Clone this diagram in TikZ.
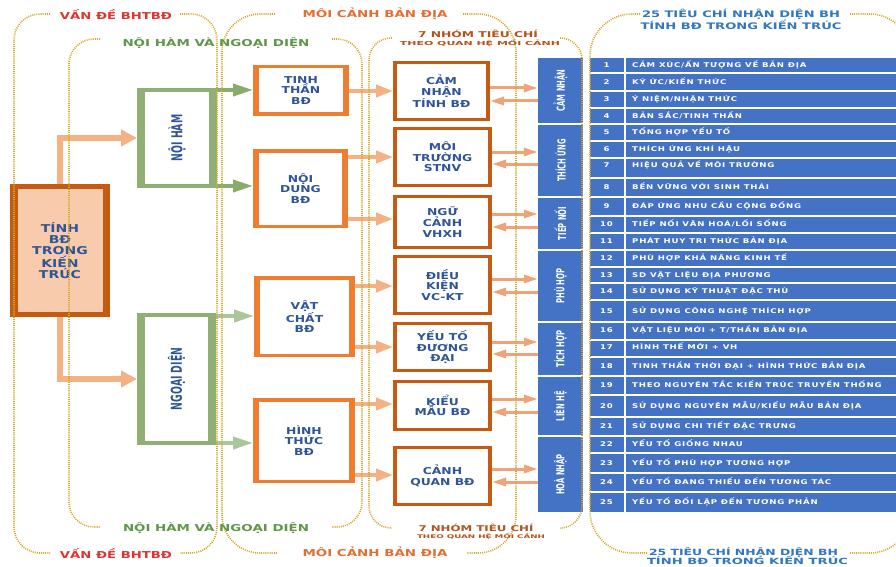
\documentclass[tikz,border=0pt]{standalone}
\usepackage{fontspec}
\usepackage{graphicx}
\setmainfont{DejaVu Sans}
\newfontfamily\wfont{DejaVu Sans}[FakeStretch=1.3]
\newfontfamily\cfont{DejaVu Sans}[FakeStretch=0.62]
\newfontfamily\tfont{DejaVu Sans}[FakeStretch=1.32,LetterSpace=12]
\usetikzlibrary{arrows.meta}
\newcommand\fitw[2]{\resizebox{#1}{\height}{#2}}
\definecolor{gold}{RGB}{212,168,44}
\definecolor{tblue}{RGB}{68,114,196}
\definecolor{txtblue}{RGB}{47,85,151}
\definecolor{dorange}{RGB}{197,90,17}
\definecolor{morange}{RGB}{237,125,49}
\definecolor{peach}{RGB}{248,203,173}
\definecolor{salmon}{RGB}{244,177,131}
\definecolor{salmontwo}{RGB}{238,163,120}
\definecolor{gbox}{RGB}{143,175,117}
\definecolor{garrow}{RGB}{138,170,110}
\definecolor{garrowl}{RGB}{170,198,155}
\definecolor{hred}{RGB}{222,52,48}
\definecolor{hgreen}{RGB}{96,150,72}
\definecolor{horange}{RGB}{228,110,50}
\definecolor{hbrown}{RGB}{180,82,30}
\definecolor{hblue}{RGB}{50,120,190}
\begin{document}
\begin{tikzpicture}[x=1pt,y=-1pt,
  framebox/.style n args={3}{draw=#1, line width=#2, fill=white, inner sep=0pt,
    path picture={\fill[#1] (path picture bounding box.south west) rectangle ([xshift=#3]path picture bounding box.north west);
                  \fill[#1] (path picture bounding box.south east) rectangle ([xshift=-#3]path picture bounding box.north east);}},
  boxtxt/.style={text=txtblue, align=center, font={\wfont\bfseries\fontsize{9.5}{10.6}\selectfont}},
  cthree/.style={framebox={morange}{3.5pt}{4pt}, boxtxt},
  cfour/.style={framebox={dorange}{3pt}{2.5pt}, boxtxt},
  gbx/.style={framebox={gbox}{4pt}{6pt}, text=txtblue, font={\cfont\bfseries\fontsize{15}{17}\selectfont}},
  marrow/.style={draw=salmon, line width=6pt, -{Triangle[length=16pt,width=16pt]}},
  garr/.style={draw=garrow, line width=3.8pt, -{Triangle[length=20pt,width=12pt]}},
  garrl/.style={draw=garrowl, line width=3.8pt, -{Triangle[length=20pt,width=12pt]}},
  sarr/.style={draw=salmon, line width=4pt, -{Triangle[length=17pt,width=12pt]}},
  tarr/.style={draw=salmontwo, line width=3pt, -{Triangle[length=14pt,width=8pt]}},
  gcell/.style={fill=tblue, inner sep=0pt, minimum width=45pt, text=white, font={\cfont\bfseries\fontsize{11}{12}\selectfont}},
  rowtxt/.style={text=white, inner sep=0pt, text height=4.8pt, text depth=0pt, font={\tfont\bfseries\fontsize{6.5}{7}\selectfont}},
  gline/.style={draw=gold, line width=1.6pt, dash pattern=on 1pt off 1.1pt},
  hdr/.style={inner sep=0pt, font={\wfont\bfseries\fontsize{9.5}{10}\selectfont}},
]
\useasboundingbox (0,0) rectangle (896,567);
\fill[white] (0,0) rectangle (896,567);

% ---------- table ----------
\node[gcell, minimum height=65.5pt] (g1) at (560.5,90.5) {\rotatebox{90}{CẢM NHẬN}};
\node[gcell, minimum height=71.5pt] (g2) at (560.5,160.5) {\rotatebox{90}{THÍCH ỨNG}};
\node[gcell, minimum height=51.5pt] (g3) at (560.5,223.5) {\rotatebox{90}{TIẾP NỐI}};
\node[gcell, minimum height=70.5pt] (g4) at (560.5,286) {\rotatebox{90}{PHÙ HỢP}};
\node[gcell, minimum height=52.5pt] (g5) at (560.5,349) {\rotatebox{90}{TÍCH HỢP}};
\node[gcell, minimum height=58.5pt] (g6) at (560.5,406) {\rotatebox{90}{LIÊN HỆ}};
\node[gcell, minimum height=75.5pt] (g7) at (560.5,474.5) {\rotatebox{90}{HOÀ NHẬP}};

\foreach \n/\t/\a/\b/\y in {
 1/{CẢM XÚC/ẤN TƯỢNG VỀ BẢN ĐỊA}/57/73/65,
 2/{KÝ ỨC/KIẾN THỨC}/73/91/82,
 3/{Ý NIỆM/NHẬN THỨC}/91/108/99.5,
 4/{BẢN SẮC/TINH THẦN}/108/124/116,
 5/{TỔNG HỢP YẾU TỐ}/124/141/132.5,
 6/{THÍCH ỨNG KHÍ HẬU}/141/158/149.5,
 7/{HIỆU QUẢ VỀ MÔI TRƯỜNG}/158/178/165,
 8/{BỀN VỮNG VỚI SINH THÁI}/178/197/187,
 9/{ĐÁP ỨNG NHU CẦU CỘNG ĐỒNG}/197/216/206,
 10/{TIẾP NỐI VĂN HOÁ/LỐI SỐNG}/216/233/224.5,
 11/{PHÁT HUY TRI THỨC BẢN ĐỊA}/233/250/241.5,
 12/{PHÙ HỢP KHẢ NĂNG KINH TẾ}/250/267/258.5,
 13/{SD VẬT LIỆU ĐỊA PHƯƠNG}/267/283/275,
 14/{SỬ DỤNG KỸ THUẬT ĐẶC THÙ}/283/300/291.5,
 15/{SỬ DỤNG CÔNG NGHỆ THÍCH HỢP}/300/322/311,
 16/{VẬT LIỆU MỚI + T/THẦN BẢN ĐỊA}/322/340/330,
 17/{HÌNH THẾ MỚI + VH}/340/357/347,
 18/{TINH THẦN THỜI ĐẠI + HÌNH THỨC BẢN ĐỊA}/357/376/366,
 19/{THEO NGUYÊN TẮC KIẾN TRÚC TRUYỀN THỐNG}/376/395/385.5,
 20/{SỬ DỤNG NGUYÊN MẪU/KIỂU MẪU BẢN ĐỊA}/395/417/406,
 21/{SỬ DỤNG CHI TIẾT ĐẶC TRƯNG}/417/436/426,
 22/{YẾU TỐ GIỐNG NHAU}/436/453/444.5,
 23/{YẾU TỐ PHÙ HỢP TƯƠNG HỢP}/453/473/463,
 24/{YẾU TỐ ĐANG THIẾU ĐẾN TƯƠNG TÁC}/473/492/482.5,
 25/{YẾU TỐ ĐỐI LẬP ĐẾN TƯƠNG PHẢN}/492/513/502.5}{
  \fill[tblue] (590,\a+0.6) rectangle (623.5,\b-0.6);
  \fill[tblue] (625.5,\a+0.6) rectangle (900,\b-0.6);
  \node[rowtxt] (n\n) at (606.5,\y) {\n};
  \node[rowtxt, anchor=west] (r\n) at (632,\y) {\t};
}

% ---------- main box ----------
\node[framebox={dorange}{5pt}{5pt}, fill=peach, minimum width=95pt, minimum height=128pt,
      text=txtblue, align=center, font={\wfont\bfseries\fontsize{10.8}{11.4}\selectfont}]
      (main) at (60,250.5) {TÍNH\\BĐ\\TRONG\\KIẾN\\TRÚC};

% ---------- green boxes ----------
\node[gbx, minimum width=76pt, minimum height=96pt] (nh) at (177,138) {\rotatebox{90}{NỘI HÀM}};
\node[gbx, minimum width=75pt, minimum height=128pt] (ng) at (176.5,379) {\rotatebox{90}{NGOẠI DIỆN}};

% ---------- column 3 ----------
\node[cthree, minimum width=92.5pt, minimum height=47.5pt] (tt) at (301,90.5) {TINH\\THẦN\\BĐ};
\node[cthree, minimum width=91.5pt, minimum height=75.5pt] (nd) at (300.5,188.5) {NỘI\\DUNG\\BĐ};
\node[cthree, minimum width=97.5pt, minimum height=77.5pt] (vc) at (304.5,316.5) {VẬT\\CHẤT\\BĐ};
\node[cthree, minimum width=98.5pt, minimum height=81.5pt] (ht) at (304,440.5) {HÌNH\\THỨC\\BĐ};

% ---------- column 4 ----------
\node[cfour, minimum width=94pt, minimum height=57pt] (cn) at (441.5,91) {CẢM\\NHẬN\\TÍNH BĐ};
\node[cfour, minimum width=96pt, minimum height=57pt] (mt) at (442.5,157) {MÔI\\TRƯỜNG\\STNV};
\node[cfour, minimum width=96pt, minimum height=51pt] (nc) at (442.5,222) {NGỮ\\CẢNH\\VHXH};
\node[cfour, minimum width=96pt, minimum height=57pt] (dk) at (442.5,285) {ĐIỀU\\KIỆN\\VC-KT};
\node[cfour, minimum width=96pt, minimum height=47pt] (yt) at (442.5,347) {YẾU TỐ\\ĐƯƠNG\\ĐẠI};
\node[cfour, minimum width=96pt, minimum height=48pt] (km) at (442.5,405.5) {KIỂU\\MẪU BĐ};
\node[cfour, minimum width=96pt, minimum height=57pt] (cq) at (442.5,476) {CẢNH\\QUAN BĐ};

% ---------- arrows ----------
\draw[marrow] (main.north) |- (nh.west);
\draw[marrow] (main.south) |- (ng.west);

\draw[garr] (nh.east |- 0,90) -- (tt.west |- 0,90);
\draw[garr] (nh.east |- 0,186) -- (nd.west |- 0,186);
\draw[garrl] (ng.east |- 0,316) -- (vc.west |- 0,316);
\draw[garrl] (ng.east |- 0,443) -- (ht.west |- 0,443);

\draw[sarr] (tt.east |- 0,91) -- (cn.west |- 0,91);
\draw[sarr] (nd.east |- 0,157) -- (mt.west |- 0,157);
\draw[sarr] (nd.east |- 0,219) -- (nc.west |- 0,219);
\draw[sarr] (vc.east |- 0,286) -- (dk.west |- 0,286);
\draw[sarr] (vc.east |- 0,347) -- (yt.west |- 0,347);
\draw[sarr] (ht.east |- 0,404) -- (km.west |- 0,404);
\draw[sarr] (ht.east |- 0,475) -- (cq.west |- 0,475);

\draw[tarr] (cn.east |- 0,88) -- (g1.west |- 0,88);
\draw[tarr] (g1.west |- 0,101) -- (cn.east |- 0,101);
\draw[tarr] (mt.east |- 0,152) -- (g2.west |- 0,152);
\draw[tarr] (g2.west |- 0,164) -- (mt.east |- 0,164);
\draw[tarr] (nc.east |- 0,214) -- (g3.west |- 0,214);
\draw[tarr] (g3.west |- 0,227) -- (nc.east |- 0,227);
\draw[tarr] (dk.east |- 0,279) -- (g4.west |- 0,279);
\draw[tarr] (g4.west |- 0,292) -- (dk.east |- 0,292);
\draw[tarr] (yt.east |- 0,342) -- (g5.west |- 0,342);
\draw[tarr] (g5.west |- 0,354) -- (yt.east |- 0,354);
\draw[tarr] (km.east |- 0,399) -- (g6.west |- 0,399);
\draw[tarr] (g6.west |- 0,412) -- (km.east |- 0,412);
\draw[tarr] (cq.east |- 0,469) -- (g7.west |- 0,469);
\draw[tarr] (g7.west |- 0,482) -- (cq.east |- 0,482);

% ---------- dotted brackets ----------
\draw[gline, rounded corners=26pt] (50,14) -- (14,14) -- (14,553) -- (50,553);
\draw[gline, rounded corners=26pt] (180,14) -- (217,14) -- (217,553) -- (180,553);
\draw[gline, rounded corners=25pt] (100,39) -- (69,39) -- (69,527) -- (100,527);
\draw[gline, rounded corners=25pt] (332,39) -- (362,39) -- (362,527) -- (332,527);
\draw[gline, rounded corners=38pt] (275,14) -- (222,14) -- (222,553) -- (277,553);
\draw[gline, rounded corners=38pt] (463,14) -- (516,14) -- (516,553) -- (467,553);
\draw[gline, rounded corners=22pt] (392,38) -- (369,38) -- (369,528) -- (392,528);
\draw[gline, rounded corners=22pt] (560,38) -- (582,38) -- (582,528) -- (562,528);
\draw[gline, rounded corners=42pt] (640,14) -- (590,14) -- (590,553) -- (647,553);
\draw[gline, rounded corners=40pt] (850,14) -- (910,14) -- (910,553) -- (850,553);

% ---------- bracket labels ----------
\node[hdr, text=hred] (l1t) at (116,14) {\fitw{112pt}{VẤN ĐỀ BHTBĐ}};
\node[hdr, text=hred] (l1b) at (116,553) {\fitw{112pt}{VẤN ĐỀ BHTBĐ}};
\node[hdr, text=hgreen] (l2t) at (216,43) {\fitw{187pt}{NỘI HÀM VÀ NGOẠI DIỆN}};
\node[hdr, text=hgreen] (l2b) at (216,528) {\fitw{186pt}{NỘI HÀM VÀ NGOẠI DIỆN}};
\node[hdr, text=horange] (l3t) at (375,14) {\fitw{145pt}{MÔI CẢNH BẢN ĐỊA}};
\node[hdr, text=horange] (l3b) at (375,553) {\fitw{145pt}{MÔI CẢNH BẢN ĐỊA}};
\node[hdr, text=hbrown, font={\wfont\bfseries\fontsize{8}{9}\selectfont}] (l4t) at (478,34) {\fitw{120pt}{7 NHÓM TIÊU CHÍ}};
\node[hdr, text=hbrown, font={\wfont\bfseries\fontsize{5.5}{6}\selectfont}] (l4s) at (480,43) {\fitw{160pt}{THEO QUAN HỆ MỐI CẢNH}};
\node[hdr, text=hbrown, font={\wfont\bfseries\fontsize{8}{9}\selectfont}] (l4b) at (476,528) {\fitw{115pt}{7 NHÓM TIÊU CHÍ}};
\node[hdr, text=hbrown, font={\wfont\bfseries\fontsize{5}{6}\selectfont}] (l4bs) at (481,536) {\fitw{128pt}{THEO QUAN HỆ MỐI CẢNH}};
\node[hdr, text=hblue, font={\wfont\bfseries\fontsize{9}{10}\selectfont}] (l5t) at (741,14) {\fitw{198pt}{25 TIÊU CHÍ NHẬN DIỆN BH}};
\node[hdr, text=hblue, font={\wfont\bfseries\fontsize{9}{10}\selectfont}] (l5ts) at (741,24.5) {\fitw{201pt}{TÍNH BĐ TRONG KIẾN TRÚC}};
\node[hdr, text=hblue, font={\wfont\bfseries\fontsize{8.5}{10}\selectfont}] (l5b) at (743.5,552) {\fitw{189pt}{25 TIÊU CHÍ NHẬN DIỆN BH}};
\node[hdr, text=hblue, font={\wfont\bfseries\fontsize{8.5}{10}\selectfont}] (l5bs) at (747.5,560.5) {\fitw{201pt}{TÍNH BĐ TRONG KIẾN TRÚC}};
\end{tikzpicture}
\end{document}
